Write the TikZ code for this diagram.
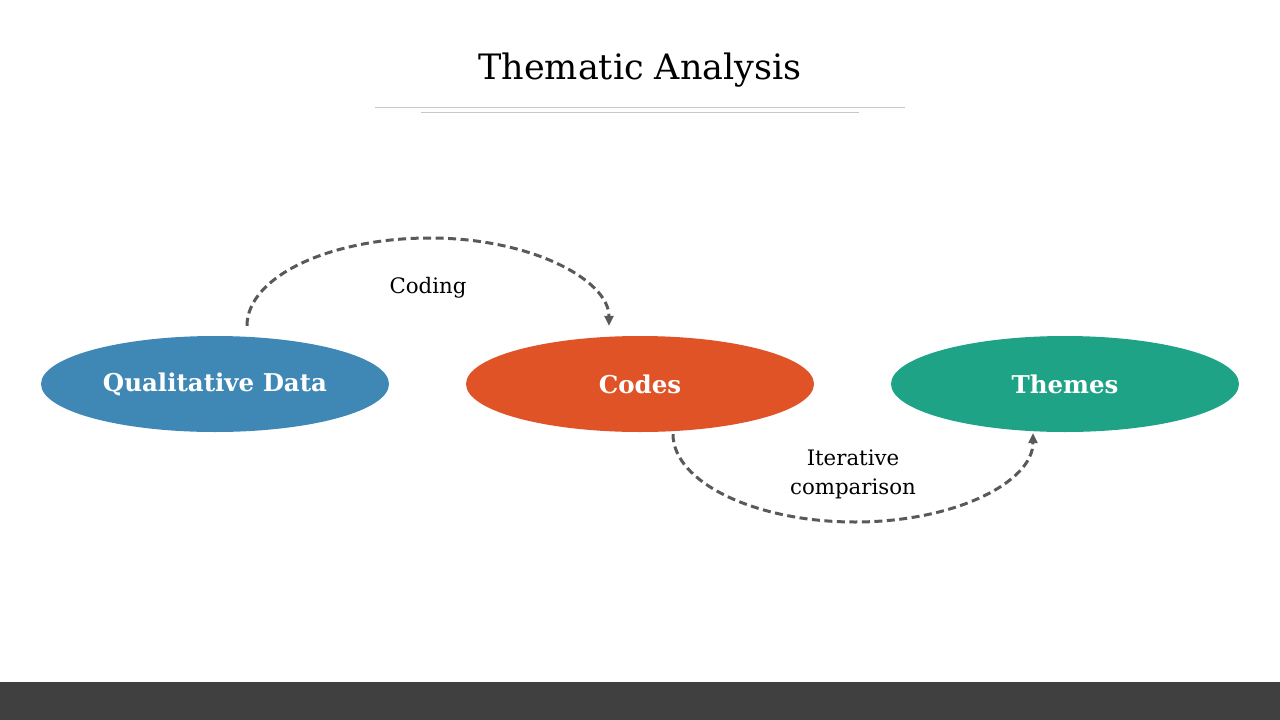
\documentclass[tikz,border=0pt]{standalone}
\usepackage{fontspec}
\setmainfont{DejaVu Serif}
\usetikzlibrary{shapes.geometric,arrows.meta,calc}
\definecolor{qblue}{HTML}{3F88B5}
\definecolor{corange}{HTML}{E05326}
\definecolor{tgreen}{HTML}{1FA386}
\definecolor{arrowgray}{HTML}{595959}
\definecolor{rulegray}{HTML}{C8C8C8}
\definecolor{barbg}{HTML}{404040}
\tikzset{
  blob/.style={ellipse, minimum width=348pt, minimum height=96pt, inner sep=0pt,
    text=white, font=\fontsize{24.5}{29}\selectfont\bfseries},
  flow/.style={draw=arrowgray, line width=3pt, dash pattern=on 8pt off 4.5pt,
    -{Triangle[length=10pt,width=9pt]}},
  lbl/.style={font=\fontsize{21.3}{29.5}\selectfont, align=center, inner sep=0pt},
  titlerule/.style={draw=rulegray, line width=1pt}
}
\begin{document}
\begin{tikzpicture}[x=1pt,y=-1pt]
\useasboundingbox (0,0) rectangle (1280,720);
\fill[barbg] (0,682) rectangle (1280,720);
% title
\node[font=\fontsize{35}{40}\selectfont, anchor=base, inner sep=0pt] (title) at (640,79) {Thematic Analysis};
\coordinate (r1a) at (375,107.5); \coordinate (r1b) at (905,107.5);
\coordinate (r2a) at (421,112.5); \coordinate (r2b) at (859,112.5);
\draw[titlerule] (r1a) -- (r1b);
\draw[titlerule] (r2a) -- (r2b);
% nodes
\node[blob, fill=qblue] (qd) at (215,384) {Qualitative Data};
\node[blob, fill=corange] (codes) at (640,384) {Codes};
\node[blob, fill=tgreen] (themes) at (1065,384) {Themes};
% coding arrow
\coordinate (c1) at ($(qd.north)+(32,-10)$);
\coordinate (c2) at ($(codes.north)+(-31,-10)$);
\coordinate (cpk) at (430,238);
\draw[flow] (c1) .. controls (247,277) and (329,238) .. (cpk)
  .. controls (531,238) and (609,280) .. (c2);
\node[lbl] (codinglbl) at (428,288) {Coding};
% iterative arrow
\coordinate (i1) at ($(codes.south)+(33,2)$);
\coordinate (i2) at ($(themes.south)+(-32,1)$);
\coordinate (ipk) at (855,522);
\draw[flow] (i1) .. controls (673,482) and (755,522) .. (ipk)
  .. controls (955,522) and (1033,482) .. (i2);
\node[lbl] (iterlbl) at (853,474.5) {Iterative\\comparison};
\end{tikzpicture}
\end{document}
